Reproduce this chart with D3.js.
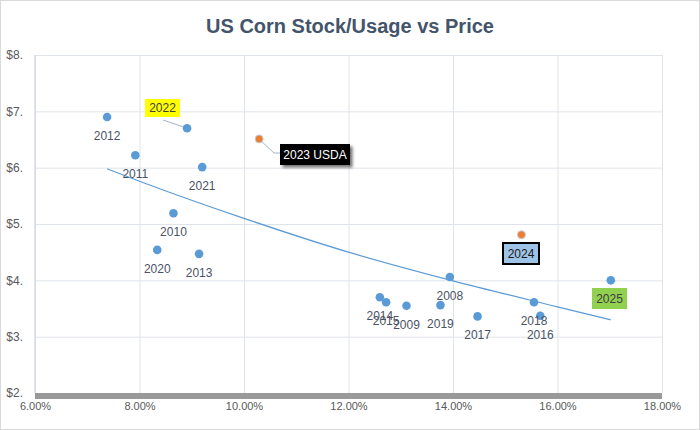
<!DOCTYPE html>
<html>
<head>
<meta charset="utf-8">
<script src="https://cdn.jsdelivr.net/npm/d3@7"></script>
<style>
  body { margin: 0; background: #fff; }
  svg { display: block; font-family: "Liberation Sans", Arial, sans-serif; }
</style>
</head>
<body>
<div id="chart"></div>
<script>
// Blue series: labelled years, stock/usage (%) and price ($)
var years = ["2012", "2011", "2022", "2021", "2010", "2020", "2013", "2014", "2015", "2009", "2019", "2008", "2017", "2018", "2016", "2025"];
var stockUsage = [7.38, 7.92, 8.91, 9.20, 8.65, 8.34, 9.14, 12.60, 12.72, 13.11, 13.76, 13.94, 14.47, 15.55, 15.67, 17.02];
var price = [6.90, 6.22, 6.70, 6.01, 5.19, 4.54, 4.47, 3.70, 3.61, 3.55, 3.56, 4.06, 3.36, 3.61, 3.37, 4.00];

// Orange series: estimates
var estLabels = ["2023 USDA", "2024"];
var estStockUsage = [10.29, 15.31];
var estPrice = [6.51, 4.81];

// Trendline
var trendX = [7.38, 8, 10, 12, 14, 16, 17.02];
var trendY = [5.98, 5.76, 5.10, 4.50, 3.99, 3.53, 3.30];

// Tick values
var xTicks = [6, 8, 10, 12, 14, 16, 18];
var yTicks = [2, 3, 4, 5, 6, 7, 8];

var width = 700;
var height = 430;
var margin = { top: 55, right: 38, bottom: 37, left: 35 };

var svg = d3
  .select("#chart")
  .append("svg")
  .attr("width", width)
  .attr("height", height);

// shadow filter for the black callout
var defs = svg.append("defs");
var shadow = defs
  .append("filter")
  .attr("id", "shadow")
  .attr("x", "-20%")
  .attr("y", "-30%")
  .attr("width", "150%")
  .attr("height", "170%");
shadow
  .append("feDropShadow")
  .attr("dx", 2.5)
  .attr("dy", 2.5)
  .attr("stdDeviation", 1.5)
  .attr("flood-color", "#000")
  .attr("flood-opacity", 0.55);

// outer chart border
svg
  .append("rect")
  .attr("x", 0.5)
  .attr("y", 0.5)
  .attr("width", width - 1)
  .attr("height", height - 1)
  .attr("fill", "#fff")
  .attr("stroke", "#d9d9d9");

var xScale = d3.scaleLinear().domain([6, 18]).range([margin.left, width - margin.right]);
var yScale = d3.scaleLinear().domain([2, 8]).range([height - margin.bottom, margin.top]);

// Title
svg
  .append("text")
  .attr("x", 350)
  .attr("y", 33)
  .attr("text-anchor", "middle")
  .attr("font-size", "20px")
  .attr("font-weight", "bold")
  .attr("fill", "#44546a")
  .text("US Corn Stock/Usage vs Price");

// Gridlines
var yGrid = svg
  .append("g")
  .attr("transform", "translate(" + margin.left + ",0)")
  .call(
    d3.axisLeft(yScale)
      .tickValues(yTicks)
      .tickSize(-(xScale(18) - xScale(6)))
      .tickFormat((d) => "$" + d + ".")
  );
yGrid.select(".domain").remove();
yGrid.selectAll("line").attr("stroke", "#dfe3ea");
yGrid
  .selectAll("text")
  .attr("x", -12)
  .attr("font-size", "12px")
  .attr("font-family", "Liberation Sans, Arial, sans-serif")
  .attr("fill", "#595959");

var xGrid = svg
  .append("g")
  .attr("transform", "translate(0," + yScale(2) + ")")
  .call(
    d3.axisBottom(xScale)
      .tickValues(xTicks)
      .tickSize(-(yScale(2) - yScale(8)))
      .tickFormat((d) => d.toFixed(2) + "%")
  );
xGrid.select(".domain").remove();
xGrid.selectAll("line").attr("stroke", "#dfe3ea");
xGrid
  .selectAll("text")
  .attr("dy", "1.25em")
  .attr("font-size", "11px")
  .attr("font-family", "Liberation Sans, Arial, sans-serif")
  .attr("fill", "#595959");

// left axis line (slightly darker)
svg
  .append("line")
  .attr("x1", xScale(6))
  .attr("x2", xScale(6))
  .attr("y1", yScale(8))
  .attr("y2", yScale(2))
  .attr("stroke", "#c9d0dc");

// thick gray bar along the bottom
svg
  .append("rect")
  .attr("x", xScale(6))
  .attr("y", yScale(2))
  .attr("width", xScale(18) - xScale(6))
  .attr("height", 6)
  .attr("fill", "#999999");

// Trendline
var trendLine = d3
  .line()
  .x((d, i) => xScale(trendX[i]))
  .y((d, i) => yScale(trendY[i]))
  .curve(d3.curveMonotoneX);

svg
  .append("path")
  .datum(trendX)
  .attr("d", trendLine)
  .attr("fill", "none")
  .attr("stroke", "#5b9bd5")
  .attr("stroke-width", 1.2);

// Leader lines for callouts
svg
  .append("path")
  .attr("d", "M163,120 L" + (xScale(stockUsage[2]) - 3) + "," + (yScale(price[2]) - 1))
  .attr("fill", "none")
  .attr("stroke", "#a6b4c8")
  .attr("stroke-width", 1);

svg
  .append("path")
  .attr("d", "M" + (xScale(estStockUsage[0]) + 3) + "," + (yScale(estPrice[0]) + 3) + " L274,153 L281,153")
  .attr("fill", "none")
  .attr("stroke", "#a6b4c8")
  .attr("stroke-width", 1);

// Blue points
svg
  .selectAll("circle.blue")
  .data(years)
  .enter()
  .append("circle")
  .attr("class", "blue")
  .attr("cx", (d, i) => xScale(stockUsage[i]))
  .attr("cy", (d, i) => yScale(price[i]))
  .attr("r", 4.3)
  .attr("fill", "#5b9bd5");

// Orange points
svg
  .selectAll("circle.est")
  .data(estLabels)
  .enter()
  .append("circle")
  .attr("class", "est")
  .attr("cx", (d, i) => xScale(estStockUsage[i]))
  .attr("cy", (d, i) => yScale(estPrice[i]))
  .attr("r", 4)
  .attr("fill", "#ed7d31")
  .attr("stroke", "#c8cfd9")
  .attr("stroke-width", 1);

// Plain year labels under points
var boxed = ["2022", "2025"];
svg
  .selectAll("text.year")
  .data(years.filter((d) => boxed.indexOf(d) < 0))
  .enter()
  .append("text")
  .attr("class", "year")
  .attr("x", (d) => xScale(stockUsage[years.indexOf(d)]))
  .attr("y", (d) => yScale(price[years.indexOf(d)]) + 19)
  .attr("text-anchor", "middle")
  .attr("dominant-baseline", "central")
  .attr("font-size", "12px")
  .attr("fill", "#4a5364")
  .text((d) => d);

// Callout boxes
var callouts = [
  { text: years[2], x: 145, y: 99, w: 35, h: 18, fill: "#ffff00", stroke: "none", color: "#404040" },
  { text: estLabels[0], x: 280, y: 144, w: 70, h: 21, fill: "#000000", stroke: "none", color: "#ffffff", shadow: true },
  { text: estLabels[1], x: 503, y: 243, w: 36, h: 21, fill: "#9dc3e6", stroke: "#000000", color: "#1a1a1a" },
  { text: years[15], x: 592, y: 288, w: 35, h: 21, fill: "#92d050", stroke: "none", color: "#404040" }
];

callouts.forEach(function (c) {
  svg
    .append("rect")
    .attr("x", c.x)
    .attr("y", c.y)
    .attr("width", c.w)
    .attr("height", c.h)
    .attr("fill", c.fill)
    .attr("stroke", c.stroke)
    .attr("stroke-width", 2)
    .attr("filter", c.shadow ? "url(#shadow)" : null);
  svg
    .append("text")
    .attr("x", c.x + c.w / 2)
    .attr("y", c.y + c.h / 2)
    .attr("text-anchor", "middle")
    .attr("dominant-baseline", "central")
    .attr("font-size", "12px")
    .attr("fill", c.color)
    .text(c.text);
});
</script>
</body>
</html>
